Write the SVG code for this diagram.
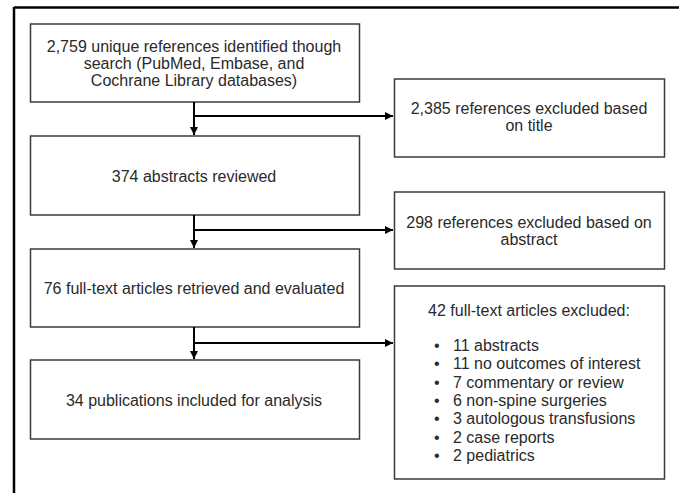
<svg xmlns="http://www.w3.org/2000/svg" width="679" height="493" viewBox="0 0 679 493">
<style>
.box{fill:#fff;stroke:#3a3a3a;stroke-width:1.5}
.t{font-family:"Liberation Sans",Arial,sans-serif;font-size:16px;fill:#2a2a2a}
.c{text-anchor:middle}
.ln{fill:none;stroke:#000;stroke-width:2}
</style>
<defs>
<marker id="ah" viewBox="0 0 10 10" refX="10" refY="5" markerWidth="4" markerHeight="4" orient="auto" markerUnits="strokeWidth">
<path d="M0,0 L10,5 L0,10 z" fill="#000"/>
</marker>
</defs>
<rect x="0" y="0" width="679" height="493" fill="#fff"/>
<g id="frame">
<line x1="14" y1="7.5" x2="679" y2="7.5" stroke="#000" stroke-width="2.5"/>
<line x1="14" y1="7" x2="14" y2="493" stroke="#000" stroke-width="2.5"/>
</g>
<g id="n1">
<rect class="box" x="30.5" y="24" width="329" height="78"/>
<text class="t c" x="194" y="52">2,759 unique references identified though</text>
<text class="t c" x="194" y="69">search (PubMed, Embase, and</text>
<text class="t c" x="194" y="86">Cochrane Library databases)</text>
</g>
<g id="n2">
<rect class="box" x="30.5" y="136" width="329" height="79"/>
<text class="t c" x="194" y="182">374 abstracts reviewed</text>
</g>
<g id="n3">
<rect class="box" x="30.5" y="249" width="329" height="78"/>
<text class="t c" x="194" y="294">76 full-text articles retrieved and evaluated</text>
</g>
<g id="n4">
<rect class="box" x="30.5" y="360" width="329" height="79"/>
<text class="t c" x="194" y="406">34 publications included for analysis</text>
</g>
<g id="e1">
<rect class="box" x="394.5" y="79" width="270" height="78"/>
<text class="t c" x="529" y="114">2,385 references excluded based</text>
<text class="t c" x="529" y="131">on title</text>
</g>
<g id="e2">
<rect class="box" x="394.5" y="192" width="270" height="77"/>
<text class="t c" x="529" y="228">298 references excluded based on</text>
<text class="t c" x="529" y="245">abstract</text>
</g>
<g id="e3">
<rect class="box" x="394.5" y="286" width="270" height="193"/>
<text class="t c" x="529" y="316">42 full-text articles excluded:</text>
<g class="t">
<text x="434" y="351">•</text><text x="453" y="351">11 abstracts</text>
<text x="434" y="369">•</text><text x="453" y="369">11 no outcomes of interest</text>
<text x="434" y="388">•</text><text x="453" y="388">7 commentary or review</text>
<text x="434" y="406">•</text><text x="453" y="406">6 non-spine surgeries</text>
<text x="434" y="424">•</text><text x="453" y="424">3 autologous transfusions</text>
<text x="434" y="443">•</text><text x="453" y="443">2 case reports</text>
<text x="434" y="461">•</text><text x="453" y="461">2 pediatrics</text>
</g>
</g>
<g id="connectors">
<line class="ln" x1="194" y1="102" x2="194" y2="135" marker-end="url(#ah)"/>
<line class="ln" x1="194" y1="116" x2="393" y2="116" marker-end="url(#ah)"/>
<line class="ln" x1="194" y1="215" x2="194" y2="248" marker-end="url(#ah)"/>
<line class="ln" x1="194" y1="230" x2="393" y2="230" marker-end="url(#ah)"/>
<line class="ln" x1="194" y1="327" x2="194" y2="359" marker-end="url(#ah)"/>
<line class="ln" x1="194" y1="343" x2="393" y2="343" marker-end="url(#ah)"/>
</g>
</svg>
